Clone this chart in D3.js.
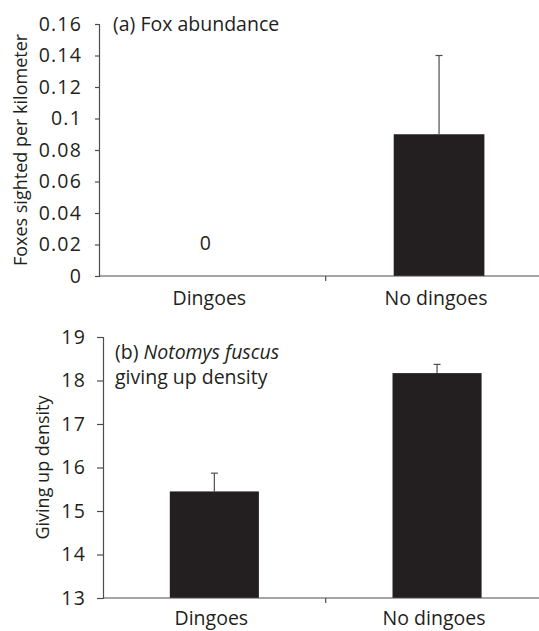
<!DOCTYPE html>
<html>
<head>
<meta charset="utf-8">
<script src="https://cdn.jsdelivr.net/npm/d3@7"></script>
<style>
  body { margin: 0; background: #fff; }
  text { font-family: "Open Sans", "Noto Sans", sans-serif; fill: #231f20; }
</style>
</head>
<body>
<script>
const width = 539;
const height = 631;

// data
const categories = ["Dingoes", "No dingoes"];
const foxMeans = [0, 0.09];
const foxSE = [0, 0.05];
const foxTicks = [0, 0.02, 0.04, 0.06, 0.08, 0.1, 0.12, 0.14, 0.16];
const gudMeans = [15.45, 18.17];
const gudSE = [0.42, 0.2];
const gudTicks = [13, 14, 15, 16, 17, 18, 19];

const svg = d3.create('svg')
  .attr('width', width)
  .attr('height', height)
  .style('background-color', '#fff');
document.body.appendChild(svg.node());

const axisColor = '#4d4d4d';
const barColor = '#231f20';
const fs = 19.5;

function drawPanel(opts) {
  const g = svg.append('g');
  const x = d3.scaleBand()
    .domain(categories)
    .range([opts.left, opts.left + 2 * opts.band])
    .paddingInner(0.6).paddingOuter(0.3);
  const y = d3.scaleLinear()
    .domain(opts.domain)
    .range([opts.bottom, opts.top]);

  // bars
  g.selectAll('rect.bar')
    .data(opts.means)
    .enter().append('rect')
    .attr('x', (d, i) => x(categories[i]))
    .attr('width', x.bandwidth())
    .attr('y', d => y(d))
    .attr('height', d => y(opts.domain[0]) - y(d))
    .attr('fill', barColor);

  // error bars (upper only)
  opts.means.forEach((m, i) => {
    const se = opts.se[i];
    if (!se) return;
    const cx = x(categories[i]) + x.bandwidth() / 2;
    g.append('line')
      .attr('x1', cx).attr('x2', cx)
      .attr('y1', y(m)).attr('y2', y(m + se))
      .attr('stroke', axisColor).attr('stroke-width', 1.2);
    g.append('line')
      .attr('x1', cx - 3.5).attr('x2', cx + 3.5)
      .attr('y1', y(m + se)).attr('y2', y(m + se))
      .attr('stroke', axisColor).attr('stroke-width', 1.2);
  });

  // y axis
  const yAxis = d3.axisLeft(y)
    .tickValues(opts.ticks)
    .tickSize(opts.tickLen)
    .tickPadding(opts.tickPad)
    .tickFormat(d3.format('~g'));
  const ya = g.append('g')
    .attr('transform', `translate(${opts.left},0)`)
    .call(yAxis);
  ya.select('.domain').attr('stroke', axisColor).attr('stroke-width', 1.2);
  ya.selectAll('.tick line').attr('stroke', axisColor).attr('stroke-width', 1.2);
  ya.selectAll('.tick text')
    .attr('font-size', fs)
    .attr('font-family', '"Open Sans", sans-serif')
    .attr('letter-spacing', 1.2)
    .attr('fill', '#231f20');

  // x axis line with a tick between categories
  const right = opts.left + 2 * opts.band;
  g.append('line')
    .attr('x1', opts.left).attr('x2', right)
    .attr('y1', opts.bottom).attr('y2', opts.bottom)
    .attr('stroke', axisColor).attr('stroke-width', 1.2);
  g.append('line')
    .attr('x1', opts.left + opts.band).attr('x2', opts.left + opts.band)
    .attr('y1', opts.bottom).attr('y2', opts.bottom + 5)
    .attr('stroke', axisColor).attr('stroke-width', 1.2);

  g.selectAll('text.xlab')
    .data(categories)
    .enter().append('text')
    .attr('class', 'xlab')
    .attr('x', d => x(d) + x.bandwidth() / 2 - 3)
    .attr('y', opts.bottom + opts.xlabOff)
    .attr('text-anchor', 'middle')
    .attr('font-size', fs)
    .text(d => d);

  // y title
  g.append('text')
    .attr('transform', `translate(${opts.ytitleX},${(opts.top + opts.bottom) / 2}) rotate(-90)`)
    .attr('text-anchor', 'middle')
    .attr('font-size', 18)
    .text(opts.ytitle);

  return { g, x, y };
}

const a = drawPanel({
  left: 99, band: 226.7, top: 24, bottom: 276,
  domain: [0, 0.16], means: foxMeans, se: foxSE, ticks: foxTicks,
  tickLen: 4, tickPad: 13, xlabOff: 29, ytitleX: 27,
  ytitle: 'Foxes sighted per kilometer'
});

a.g.append('text')
  .attr('x', 113).attr('y', 31)
  .attr('font-size', fs)
  .text('(a) Fox abundance');

a.g.append('text')
  .attr('x', a.x('Dingoes') + a.x.bandwidth() / 2 - 7)
  .attr('y', a.y(0) - 26)
  .attr('text-anchor', 'middle')
  .attr('font-size', fs)
  .text('0');

const b = drawPanel({
  left: 103, band: 222.7, top: 337, bottom: 598,
  domain: [13, 19], means: gudMeans, se: gudSE, ticks: gudTicks,
  tickLen: 6, tickPad: 11, xlabOff: 27, ytitleX: 49,
  ytitle: 'Giving up density'
});

const t = b.g.append('text')
  .attr('x', 115).attr('y', 359)
  .attr('font-size', fs);
t.append('tspan').text('(b) ');
t.append('tspan').attr('font-style', 'italic').text('Notomys fuscus');
b.g.append('text')
  .attr('x', 115).attr('y', 384)
  .attr('font-size', fs)
  .text('giving up density');
</script>
</body>
</html>
